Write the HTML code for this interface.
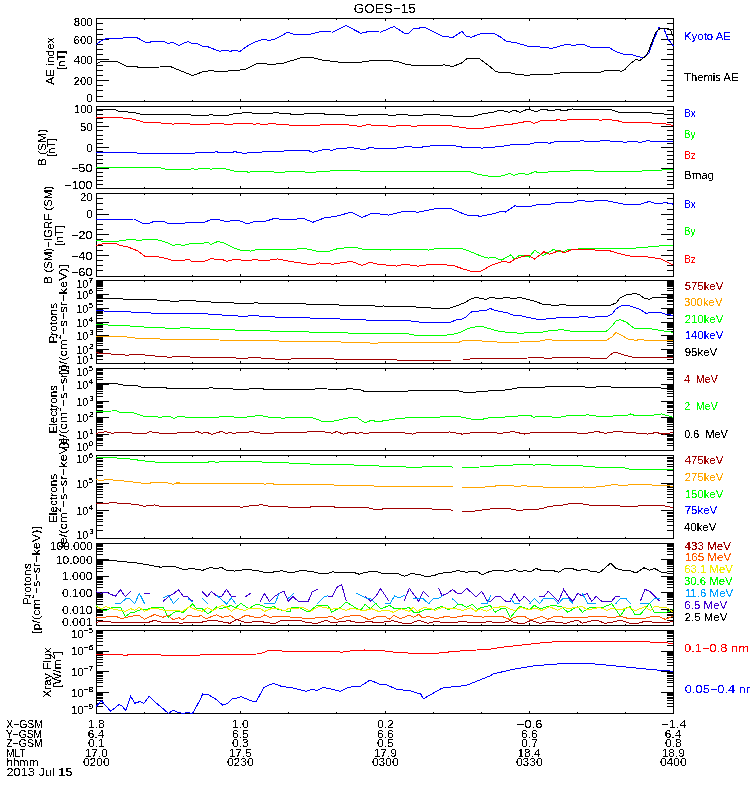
<!DOCTYPE html><html><head><meta charset="utf-8"><style>html,body{margin:0;padding:0;background:#fff;width:750px;height:800px;overflow:hidden}svg{display:block}text{font-family:"Liberation Sans",sans-serif;white-space:pre}</style></head><body><svg width="750" height="800" viewBox="0 0 750 800">
<defs>
<clipPath id="c0"><rect x="96" y="18" width="578" height="84"/></clipPath>
<clipPath id="c1"><rect x="96" y="106" width="578" height="83"/></clipPath>
<clipPath id="c2"><rect x="96" y="193" width="578" height="84"/></clipPath>
<clipPath id="c3"><rect x="96" y="280" width="578" height="84"/></clipPath>
<clipPath id="c4"><rect x="96" y="368" width="578" height="83"/></clipPath>
<clipPath id="c5"><rect x="96" y="455" width="578" height="84"/></clipPath>
<clipPath id="c6"><rect x="96" y="543" width="578" height="83"/></clipPath>
<clipPath id="c7"><rect x="96" y="630" width="578" height="84"/></clipPath>
<filter id="tc" x="0" y="0" width="750" height="800" filterUnits="userSpaceOnUse"><feComponentTransfer><feFuncA type="discrete" tableValues="0 0 0 0 0 0 0 0 0 1 1 1 1 1 1 1 1 1 1 1"/></feComponentTransfer></filter>
<filter id="tc2" x="0" y="0" width="750" height="800" filterUnits="userSpaceOnUse"><feComponentTransfer><feFuncA type="discrete" tableValues="0 1 1"/></feComponentTransfer></filter>
<filter id="tc3" x="0" y="0" width="750" height="800" filterUnits="userSpaceOnUse"><feComponentTransfer><feFuncA type="discrete" tableValues="0 0 0 0 0 0 0 0 0 1 1 1 1 1 1 1 1 1 1 1"/></feComponentTransfer></filter>
</defs>
<path d="M96 18.5 H674 M96 101.5 H674 M96 96.5 H103 M667 96.5 H674 M96 90.5 H103 M667 90.5 H674 M96 85.5 H103 M667 85.5 H674 M96 80.5 H109 M661 80.5 H674 M96 75.5 H103 M667 75.5 H674 M96 70.5 H103 M667 70.5 H674 M96 65.5 H103 M667 65.5 H674 M96 59.5 H109 M661 59.5 H674 M96 54.5 H103 M667 54.5 H674 M96 49.5 H103 M667 49.5 H674 M96 44.5 H103 M667 44.5 H674 M96 39.5 H109 M661 39.5 H674 M96 34.5 H103 M667 34.5 H674 M96 29.5 H103 M667 29.5 H674 M96 23.5 H103 M667 23.5 H674 M96 106.5 H674 M96 188.5 H674 M96 184.5 H103 M667 184.5 H674 M96 180.5 H103 M667 180.5 H674 M96 176.5 H103 M667 176.5 H674 M96 172.5 H103 M667 172.5 H674 M96 168.5 H109 M661 168.5 H674 M96 163.5 H103 M667 163.5 H674 M96 159.5 H103 M667 159.5 H674 M96 155.5 H103 M667 155.5 H674 M96 151.5 H103 M667 151.5 H674 M96 147.5 H109 M661 147.5 H674 M96 143.5 H103 M667 143.5 H674 M96 139.5 H103 M667 139.5 H674 M96 135.5 H103 M667 135.5 H674 M96 130.5 H103 M667 130.5 H674 M96 126.5 H109 M661 126.5 H674 M96 122.5 H103 M667 122.5 H674 M96 118.5 H103 M667 118.5 H674 M96 114.5 H103 M667 114.5 H674 M96 110.5 H103 M667 110.5 H674 M96 193.5 H674 M96 276.5 H674 M96 270.5 H103 M667 270.5 H674 M96 265.5 H103 M667 265.5 H674 M96 260.5 H103 M667 260.5 H674 M96 255.5 H109 M661 255.5 H674 M96 250.5 H103 M667 250.5 H674 M96 245.5 H103 M667 245.5 H674 M96 239.5 H103 M667 239.5 H674 M96 234.5 H109 M661 234.5 H674 M96 229.5 H103 M667 229.5 H674 M96 224.5 H103 M667 224.5 H674 M96 219.5 H103 M667 219.5 H674 M96 214.5 H109 M661 214.5 H674 M96 209.5 H103 M667 209.5 H674 M96 203.5 H103 M667 203.5 H674 M96 198.5 H103 M667 198.5 H674 M96 280.5 H674 M96 363.5 H674 M96 359.5 H103 M667 359.5 H674 M96 356.5 H103 M667 356.5 H674 M96 355.5 H103 M667 355.5 H674 M96 353.5 H103 M667 353.5 H674 M96 352.5 H103 M667 352.5 H674 M96 351.5 H103 M667 351.5 H674 M96 351.5 H103 M667 351.5 H674 M96 350.5 H103 M667 350.5 H674 M96 349.5 H109 M661 349.5 H674 M96 345.5 H103 M667 345.5 H674 M96 343.5 H103 M667 343.5 H674 M96 341.5 H103 M667 341.5 H674 M96 340.5 H103 M667 340.5 H674 M96 339.5 H103 M667 339.5 H674 M96 338.5 H103 M667 338.5 H674 M96 337.5 H103 M667 337.5 H674 M96 336.5 H103 M667 336.5 H674 M96 335.5 H109 M661 335.5 H674 M96 331.5 H103 M667 331.5 H674 M96 329.5 H103 M667 329.5 H674 M96 327.5 H103 M667 327.5 H674 M96 326.5 H103 M667 326.5 H674 M96 325.5 H103 M667 325.5 H674 M96 324.5 H103 M667 324.5 H674 M96 323.5 H103 M667 323.5 H674 M96 322.5 H103 M667 322.5 H674 M96 322.5 H109 M661 322.5 H674 M96 318.5 H103 M667 318.5 H674 M96 315.5 H103 M667 315.5 H674 M96 313.5 H103 M667 313.5 H674 M96 312.5 H103 M667 312.5 H674 M96 311.5 H103 M667 311.5 H674 M96 310.5 H103 M667 310.5 H674 M96 309.5 H103 M667 309.5 H674 M96 309.5 H103 M667 309.5 H674 M96 308.5 H109 M661 308.5 H674 M96 304.5 H103 M667 304.5 H674 M96 301.5 H103 M667 301.5 H674 M96 300.5 H103 M667 300.5 H674 M96 298.5 H103 M667 298.5 H674 M96 297.5 H103 M667 297.5 H674 M96 296.5 H103 M667 296.5 H674 M96 296.5 H103 M667 296.5 H674 M96 295.5 H103 M667 295.5 H674 M96 294.5 H109 M661 294.5 H674 M96 290.5 H103 M667 290.5 H674 M96 288.5 H103 M667 288.5 H674 M96 286.5 H103 M667 286.5 H674 M96 285.5 H103 M667 285.5 H674 M96 284.5 H103 M667 284.5 H674 M96 283.5 H103 M667 283.5 H674 M96 282.5 H103 M667 282.5 H674 M96 281.5 H103 M667 281.5 H674 M96 368.5 H674 M96 450.5 H674 M96 445.5 H103 M667 445.5 H674 M96 443.5 H103 M667 443.5 H674 M96 440.5 H103 M667 440.5 H674 M96 439.5 H103 M667 439.5 H674 M96 438.5 H103 M667 438.5 H674 M96 436.5 H103 M667 436.5 H674 M96 436.5 H103 M667 436.5 H674 M96 435.5 H103 M667 435.5 H674 M96 434.5 H109 M661 434.5 H674 M96 429.5 H103 M667 429.5 H674 M96 426.5 H103 M667 426.5 H674 M96 424.5 H103 M667 424.5 H674 M96 422.5 H103 M667 422.5 H674 M96 421.5 H103 M667 421.5 H674 M96 420.5 H103 M667 420.5 H674 M96 419.5 H103 M667 419.5 H674 M96 418.5 H103 M667 418.5 H674 M96 417.5 H109 M661 417.5 H674 M96 412.5 H103 M667 412.5 H674 M96 410.5 H103 M667 410.5 H674 M96 407.5 H103 M667 407.5 H674 M96 406.5 H103 M667 406.5 H674 M96 405.5 H103 M667 405.5 H674 M96 403.5 H103 M667 403.5 H674 M96 403.5 H103 M667 403.5 H674 M96 402.5 H103 M667 402.5 H674 M96 401.5 H109 M661 401.5 H674 M96 396.5 H103 M667 396.5 H674 M96 393.5 H103 M667 393.5 H674 M96 391.5 H103 M667 391.5 H674 M96 389.5 H103 M667 389.5 H674 M96 388.5 H103 M667 388.5 H674 M96 387.5 H103 M667 387.5 H674 M96 386.5 H103 M667 386.5 H674 M96 385.5 H103 M667 385.5 H674 M96 384.5 H109 M661 384.5 H674 M96 379.5 H103 M667 379.5 H674 M96 377.5 H103 M667 377.5 H674 M96 374.5 H103 M667 374.5 H674 M96 373.5 H103 M667 373.5 H674 M96 372.5 H103 M667 372.5 H674 M96 370.5 H103 M667 370.5 H674 M96 370.5 H103 M667 370.5 H674 M96 369.5 H103 M667 369.5 H674 M96 455.5 H674 M96 538.5 H674 M96 530.5 H103 M667 530.5 H674 M96 525.5 H103 M667 525.5 H674 M96 521.5 H103 M667 521.5 H674 M96 519.5 H103 M667 519.5 H674 M96 516.5 H103 M667 516.5 H674 M96 515.5 H103 M667 515.5 H674 M96 513.5 H103 M667 513.5 H674 M96 512.5 H103 M667 512.5 H674 M96 510.5 H109 M661 510.5 H674 M96 502.5 H103 M667 502.5 H674 M96 497.5 H103 M667 497.5 H674 M96 494.5 H103 M667 494.5 H674 M96 491.5 H103 M667 491.5 H674 M96 489.5 H103 M667 489.5 H674 M96 487.5 H103 M667 487.5 H674 M96 486.5 H103 M667 486.5 H674 M96 484.5 H103 M667 484.5 H674 M96 483.5 H109 M661 483.5 H674 M96 475.5 H103 M667 475.5 H674 M96 470.5 H103 M667 470.5 H674 M96 466.5 H103 M667 466.5 H674 M96 464.5 H103 M667 464.5 H674 M96 461.5 H103 M667 461.5 H674 M96 460.5 H103 M667 460.5 H674 M96 458.5 H103 M667 458.5 H674 M96 457.5 H103 M667 457.5 H674 M96 543.5 H674 M96 625.5 H674 M96 620.5 H103 M667 620.5 H674 M96 617.5 H103 M667 617.5 H674 M96 615.5 H103 M667 615.5 H674 M96 614.5 H103 M667 614.5 H674 M96 612.5 H103 M667 612.5 H674 M96 611.5 H103 M667 611.5 H674 M96 610.5 H103 M667 610.5 H674 M96 610.5 H103 M667 610.5 H674 M96 609.5 H109 M661 609.5 H674 M96 604.5 H103 M667 604.5 H674 M96 601.5 H103 M667 601.5 H674 M96 599.5 H103 M667 599.5 H674 M96 597.5 H103 M667 597.5 H674 M96 596.5 H103 M667 596.5 H674 M96 595.5 H103 M667 595.5 H674 M96 594.5 H103 M667 594.5 H674 M96 593.5 H103 M667 593.5 H674 M96 592.5 H109 M661 592.5 H674 M96 587.5 H103 M667 587.5 H674 M96 584.5 H103 M667 584.5 H674 M96 582.5 H103 M667 582.5 H674 M96 581.5 H103 M667 581.5 H674 M96 579.5 H103 M667 579.5 H674 M96 578.5 H103 M667 578.5 H674 M96 577.5 H103 M667 577.5 H674 M96 577.5 H103 M667 577.5 H674 M96 576.5 H109 M661 576.5 H674 M96 571.5 H103 M667 571.5 H674 M96 568.5 H103 M667 568.5 H674 M96 566.5 H103 M667 566.5 H674 M96 564.5 H103 M667 564.5 H674 M96 563.5 H103 M667 563.5 H674 M96 562.5 H103 M667 562.5 H674 M96 561.5 H103 M667 561.5 H674 M96 560.5 H103 M667 560.5 H674 M96 559.5 H109 M661 559.5 H674 M96 554.5 H103 M667 554.5 H674 M96 551.5 H103 M667 551.5 H674 M96 549.5 H103 M667 549.5 H674 M96 548.5 H103 M667 548.5 H674 M96 546.5 H103 M667 546.5 H674 M96 545.5 H103 M667 545.5 H674 M96 544.5 H103 M667 544.5 H674 M96 544.5 H103 M667 544.5 H674 M96 630.5 H674 M96 713.5 H674 M96 706.5 H103 M667 706.5 H674 M96 703.5 H103 M667 703.5 H674 M96 700.5 H103 M667 700.5 H674 M96 698.5 H103 M667 698.5 H674 M96 697.5 H103 M667 697.5 H674 M96 695.5 H103 M667 695.5 H674 M96 694.5 H103 M667 694.5 H674 M96 693.5 H103 M667 693.5 H674 M96 692.5 H109 M661 692.5 H674 M96 686.5 H103 M667 686.5 H674 M96 682.5 H103 M667 682.5 H674 M96 680.5 H103 M667 680.5 H674 M96 678.5 H103 M667 678.5 H674 M96 676.5 H103 M667 676.5 H674 M96 675.5 H103 M667 675.5 H674 M96 673.5 H103 M667 673.5 H674 M96 672.5 H103 M667 672.5 H674 M96 671.5 H109 M661 671.5 H674 M96 665.5 H103 M667 665.5 H674 M96 662.5 H103 M667 662.5 H674 M96 659.5 H103 M667 659.5 H674 M96 657.5 H103 M667 657.5 H674 M96 655.5 H103 M667 655.5 H674 M96 654.5 H103 M667 654.5 H674 M96 653.5 H103 M667 653.5 H674 M96 652.5 H103 M667 652.5 H674 M96 651.5 H109 M661 651.5 H674 M96 645.5 H103 M667 645.5 H674 M96 641.5 H103 M667 641.5 H674 M96 638.5 H103 M667 638.5 H674 M96 636.5 H103 M667 636.5 H674 M96 635.5 H103 M667 635.5 H674 M96 633.5 H103 M667 633.5 H674 M96 632.5 H103 M667 632.5 H674 M96 631.5 H103 M667 631.5 H674 M96.5 18 V102 M673.5 18 V102 M144.5 19 V20 M144.5 100 V101 M192.5 19 V20 M192.5 100 V101 M240.5 19 V21 M240.5 99 V101 M288.5 19 V20 M288.5 100 V101 M336.5 19 V20 M336.5 100 V101 M385.5 19 V21 M385.5 99 V101 M433.5 19 V20 M433.5 100 V101 M481.5 19 V20 M481.5 100 V101 M529.5 19 V21 M529.5 99 V101 M577.5 19 V20 M577.5 100 V101 M625.5 19 V20 M625.5 100 V101 M96.5 106 V189 M673.5 106 V189 M144.5 187 V188 M192.5 187 V188 M240.5 107 V109 M240.5 186 V188 M288.5 187 V188 M336.5 187 V188 M385.5 107 V109 M385.5 186 V188 M433.5 187 V188 M481.5 187 V188 M529.5 107 V109 M529.5 186 V188 M577.5 187 V188 M625.5 187 V188 M96.5 193 V277 M673.5 193 V277 M144.5 194 V195 M144.5 275 V276 M192.5 194 V195 M192.5 275 V276 M240.5 194 V196 M240.5 274 V276 M288.5 194 V195 M288.5 275 V276 M336.5 194 V195 M336.5 275 V276 M385.5 194 V196 M385.5 274 V276 M433.5 194 V195 M433.5 275 V276 M481.5 194 V195 M481.5 275 V276 M529.5 194 V196 M529.5 274 V276 M577.5 194 V195 M577.5 275 V276 M625.5 194 V195 M625.5 275 V276 M96.5 280 V364 M673.5 280 V364 M144.5 281 V282 M144.5 362 V363 M192.5 281 V282 M192.5 362 V363 M240.5 281 V283 M240.5 361 V363 M288.5 281 V282 M288.5 362 V363 M336.5 281 V282 M336.5 362 V363 M385.5 281 V283 M385.5 361 V363 M433.5 281 V282 M433.5 362 V363 M481.5 281 V282 M481.5 362 V363 M529.5 281 V283 M529.5 361 V363 M577.5 281 V282 M577.5 362 V363 M625.5 281 V282 M625.5 362 V363 M96.5 368 V451 M673.5 368 V451 M144.5 369 V370 M192.5 369 V370 M240.5 369 V371 M240.5 448 V450 M288.5 369 V370 M336.5 369 V370 M385.5 369 V371 M385.5 448 V450 M433.5 369 V370 M481.5 369 V370 M529.5 369 V371 M529.5 448 V450 M577.5 369 V370 M625.5 369 V370 M96.5 455 V539 M673.5 455 V539 M144.5 456 V457 M144.5 537 V538 M192.5 456 V457 M192.5 537 V538 M240.5 456 V458 M240.5 536 V538 M288.5 456 V457 M288.5 537 V538 M336.5 456 V457 M336.5 537 V538 M385.5 456 V458 M385.5 536 V538 M433.5 456 V457 M433.5 537 V538 M481.5 456 V457 M481.5 537 V538 M529.5 456 V458 M529.5 536 V538 M577.5 456 V457 M577.5 537 V538 M625.5 456 V457 M625.5 537 V538 M96.5 543 V626 M673.5 543 V626 M144.5 624 V625 M192.5 624 V625 M240.5 544 V546 M240.5 623 V625 M288.5 624 V625 M336.5 624 V625 M385.5 544 V546 M385.5 623 V625 M433.5 624 V625 M481.5 624 V625 M529.5 544 V546 M529.5 623 V625 M577.5 624 V625 M625.5 624 V625 M96.5 630 V714 M673.5 630 V714 M144.5 631 V632 M144.5 712 V713 M192.5 631 V632 M192.5 712 V713 M240.5 631 V633 M240.5 711 V713 M288.5 631 V632 M288.5 712 V713 M336.5 631 V632 M336.5 712 V713 M385.5 631 V633 M385.5 711 V713 M433.5 631 V632 M433.5 712 V713 M481.5 631 V632 M481.5 712 V713 M529.5 631 V633 M529.5 711 V713 M577.5 631 V632 M577.5 712 V713 M625.5 631 V632 M625.5 712 V713" stroke="#000" stroke-width="1" fill="none" shape-rendering="crispEdges"/>
<g clip-path="url(#c0)" fill="none" stroke-width="1" shape-rendering="crispEdges">
<polyline stroke="#0000ff" points="96,44.7 101.3,40.7 108,38 122.7,38 125.3,37.2 136,37.2 145,42 149,42.6 152,41.4 164,41.4 168,43.4 173,42.4 179,45.4 188,41.4 192,43.4 197,43.4 202,46 207,46.4 216,50 220,51.4 225,50 230,51.4 234,50.4 240,51.4 246,47 250.7,44.1 256,41.5 264,39.3 269.3,40.4 274.7,39.3 282.7,35.3 287.5,32.1 293.3,34 300.7,34.5 311.3,34 322,31.3 332.7,32.1 346,25.5 360.7,33.2 370,31.3 380.7,32.1 394,26.5 404.7,33.5 408.7,33.2 414,28.1 426,27.9 442,36.1 452.7,37.5 462,31.3 466,36.1 471.3,37.2 482,33.2 490,33.5 494.7,34 500,36.7 506.7,41.5 514.7,42.5 526.7,45.7 528,46.4 540,47 552,48.4 566,44.4 574,45.4 582,44 590,47 608,47 616,51.6 626,55 631,54.4 643,58 649,53 654,39 659,27.6 664,29 668,39 673.3,46"/>
<polyline stroke="#000000" points="96,64 100,62 104,61 116,61 126,66 136,66.6 139,67.4 160,67 163,66 170,66.4 176,69 184,72 192,75.4 196,74.4 202,72 211,70.4 220,72 228,71 238,70.4 246,69 256,63.9 264,63.3 269.3,64.7 282.7,63.3 296,59.3 302,57.2 314,58 322,60.1 338,62 362,62 375.3,60.1 396.7,61.2 407.3,64.7 423.3,66 444.7,64.9 452.7,66.5 462,62.8 467.3,58.3 479.3,58.5 490,66.5 496,71.9 509.3,72.7 514.7,74 528,75.4 533,74.4 554,74 564,72.4 586,72.4 598,73 602,71.6 606,70.4 618,70.4 621,71.4 625,69.4 630,64 636,59.4 640,60.4 646,56 649,50 653,39 656,32 660,28.4 668,28.4 671,31 673.3,37"/>
</g>
<g clip-path="url(#c1)" fill="none" stroke-width="1" shape-rendering="crispEdges">
<polyline stroke="#000000" points="96,110 104,109.6 116,110 118,111 128,112 136,113 142,114.4 190,114.4 192,115.4 208,115.4 211,114.4 214,115.4 228,115.4 234,113.6 242,113 246,112 248,112.4 254,113.4 272,113.4 274,112.4 282,113.4 296,114.4 316,113.4 330,114.4 354,115.4 364,114.4 386,114.4 390,115.4 404.7,114.5 412.7,115.6 431.3,114.5 444.7,115.3 460.7,116.7 474,116.1 484,113.6 494,112 500,110 504,111 509,112.4 514,110 520,112.4 528,109 534,111 535,112 543,109 552,111 558,109 563,111 572,109 612,110 618,112 652,113 664,114 673.3,115"/>
<polyline stroke="#ff0000" points="96,117.6 122,117.6 124,118.4 132,119 138,120.4 144,122.4 160,122.4 162,123.4 170,123.4 173,124.4 176,123.4 189,123.4 191,124.4 209,124.4 211,123.4 222,123.4 225,124.4 232,124.4 234,123.4 246,123.4 252,123.6 254,124.6 258,123.6 262,124.6 272,123.6 282,124.6 296,125.4 344,124.6 354,125.4 360,126.6 368,124.6 374,125.4 386,125.4 390,126.6 404.7,125.2 412.7,126.3 428.7,125.2 450,125.7 468.7,128.4 480,128.7 496,126 512,124.1 529,121 534,123.4 542,120.4 554,121 558,119.4 563,121 570,119.4 598,119.4 600,120.4 606,119.4 616,120.4 624,122.4 650,122.4 653,123.4 666,124 673.3,125.4"/>
<polyline stroke="#0000ff" points="96,152.6 136,152.6 138,153.4 194,153.4 196,152.6 214,152.6 216,151.6 219,152.4 232,152.4 235,151.6 238,152.4 244,153.4 246,153.4 248,152.6 272,151.6 296,150.4 308,150.4 313,152.4 320,150.4 326,149 332,150.4 336,149 344,148.6 350,147.4 360,149 366,149 370,147.4 376,148.4 390,148.4 396.7,148.1 407.3,146.5 418,147.6 434,145.5 452.7,145.5 463.3,147.3 476.7,147.3 482,148.1 501.3,146.5 512,144.7 528,144.4 536,142.4 546,142.4 549,143.4 556,141.6 578,141.6 582,140.4 586,141.6 598,141.6 602,140.4 608,140.4 612,141.6 622,141.6 625,142.6 628,141.6 637,141.6 640,142.6 648,140.4 652,141.6 673.3,141.6"/>
<polyline stroke="#00ff00" points="96,167.6 160,167.6 166,169.4 190,169.4 192,168.4 196,169.4 200,168.4 208,168.4 211,169.4 214,168.4 224,168.4 228,169.4 234,171 246,171 248,172.4 254,171 282,172.4 292,171 310,172.4 330,171 350,170 360,171 390,171 468.7,171.3 476.7,174 490,176.4 500,176.4 505,175 510,173.4 514,175.4 520,173.4 528,174.4 534,172 535,171.4 539,173 548,172 554,171 558,172 563,171 567,172 570,171 590,170.4 594,171 642,171 644,170 662,170 673.3,169.6"/>
</g>
<g clip-path="url(#c2)" fill="none" stroke-width="1" shape-rendering="crispEdges">
<polyline stroke="#0000ff" points="96,220 134,219 142,223 150,223 154,221.4 164,221.4 168,223.4 184,223.4 186,222.4 204,222.4 210,220 216,219 224,221 230,221 234,220 238,220 246,223.4 250.7,222.9 256,221 264,221.8 274.7,218.3 282.7,219.7 296,219.1 303.3,218.3 312.7,222.3 324.7,217.8 335.3,216.5 351.3,212.2 362,217.5 372.7,213 388.7,215.1 404.7,211.1 418,212.2 434,209 450,208.2 466,214.9 480.7,216.2 493.3,213.8 501.3,211.1 505.3,212.2 514.7,205.8 522.7,206.9 530.7,206.3 538.7,204.2 548,205 557.3,202.3 573.3,202.3 578.7,200.2 589.3,201.5 602.7,200.2 608,201 624,204.2 640,204.2 649.3,201.5 656,203.7 666.7,202.6 673.3,204.2"/>
<polyline stroke="#00ff00" points="96,240.4 104,241.4 116,241.4 130,239.4 136,240 140,240.4 144,239.4 156,239.4 164,241.4 173,245.4 177,244.4 184,245.4 192,243 204,243 207,242 211,244.4 218,241.4 224,243 234,248 240,250 246,250.6 250.7,251.1 258.7,249 272,249.8 290,249.8 303.3,248.2 316.7,251.1 330,251.1 338,248.5 354,247.1 362,249 386,249 390,250.1 396.7,249 423.3,249 428.7,250.1 434,249 450,248.5 463.3,249 474,253 482,256.5 488,258.1 494.7,257.5 501.3,260.2 510.7,254.9 514.7,259.1 520,254.9 529.3,257 534.7,250.3 542.7,255.7 553.3,249.5 562.7,252.2 568,249.5 589.3,248.5 624,249 640,247.7 661.3,245.8 673.3,245.3"/>
<polyline stroke="#ff0000" points="96,245.4 104,243.4 116,243.4 120,245.4 128,247 138,251 145,256.4 156,256.4 166,258.4 172,260.4 184,260.4 188,259 192,261.4 204,261.4 212,258.4 216,259.4 222,259.4 227,261.4 234,259.4 246,260.4 256,259.7 264,261 277.3,258.9 288,261 296,262.3 300.7,262.9 312.7,265 319.3,262.9 332.7,264.2 351.3,261.3 362,265.5 370,262.3 378,264.2 396.7,266.1 404.7,264.2 418,266.1 431.3,264.2 452.7,265.3 463.3,269 471.3,271.4 480.7,271.4 490.7,265.5 504,261 509.3,262.9 514.7,259.1 528,254.9 534.7,259.1 544,251.7 549.3,254.3 560,250.3 564,253 572,249.5 608,250.3 624,254.9 634.7,257 645.3,256.5 661.3,259.1 673.3,265"/>
</g>
<g clip-path="url(#c3)" fill="none" stroke-width="1" shape-rendering="crispEdges">
<polyline stroke="#000000" points="96,298 128,299.2 157.3,300 173.3,301.3 192,300.3 197.3,301.3 224,302.7 250.7,303.5 256,302.7 261.3,303.5 296,303.5 306,304 348.7,305.3 378,306.1 384,306 416,307 437,308.4 449,308.4 456,306 464,303 472,298.4 476,297.6 482,298.4 486,299.4 490,297.6 500,298.4 506,297.6 514,298.4 520,297.6 527,299.2 528,299.4 536,301.6 543,304.4 556,305.4 563,304.4 572,306 580,305.4 610,305.4 616,303 620,298 626,295 634,293.6 639,294.4 644,298 649,299.4 653,297.6 666,297.6 673.3,298"/>
<polyline stroke="#0000ff" points="96,310.7 130.7,312 157.3,313.3 208,313.9 210.7,314.7 229.3,315.2 242.7,316.5 256,315.2 261.3,316.5 282.7,317.3 314,318.1 354,319.5 378,320.5 384,320.4 410,320.4 412,321.6 426,322.4 450,322.4 456,320 462,319 466,317 472,311.4 478,311.4 480,310.4 486,310.4 490,308.4 494,310 499,311.4 506,312.4 514,315.4 522,316 527,317.2 528,317.4 538,319.4 546,319 562,317.4 568,318 586,316.4 590,317.4 608,316 612,314 616,309 622,305.4 628,305.4 640,309.4 646,313.4 652,312.4 660,312.4 666,314.4 673.3,315.4"/>
<polyline stroke="#00ff00" points="96,324.8 104,324.8 128,325.9 146.7,327.2 176,328.5 186.7,327.2 192,328.5 213.3,329.1 237.3,330.1 277.3,331.2 308.7,332 359.3,333.3 384,333.4 406,333.4 416,335.4 444,335.4 454,334 460,332.4 468,328.4 478,326.4 484,327 494,330 500,331.4 508,332.4 522,333.4 527,332.5 528,332.4 538,333 548,331 562,329.6 570,331 588,331 606,331.6 612,326 616,321 620,319.6 626,322 634,328 652,329 668,331.6 673.3,332.4"/>
<polyline stroke="#ffa500" points="96,336.5 122.7,336.5 136,338.1 165.3,339.2 218.7,340 266.7,340.8 296,341.3 338,341.9 375.3,343.2 384,342.6 458,342.6 462,341 474,340.4 478,340 484,341.6 488,341 500,342.4 520,342 527,341.3 528,341.4 538,341.4 548,339.4 554,340.4 606,340.4 612,337 616,332.4 622,335.6 628,339 636,340.4 640,339.4 646,340.4 668,340.4 673.3,341"/>
<polyline stroke="#a00000" points="96,352.8 109.3,353.9 128,355.2 136,354.1 154.7,356 170.7,357.3 176,356 194.7,357.3 232,357.3 240,358.7 256,357.3 266.7,358.7 288,359.5 296,358.1 311.3,358.9 322,358.4 343.3,359.5 383.3,359.5 410,360.5 452.7,360"/>
<polyline stroke="#a00000" points="463.3,359.2 490,358.4 520,358.1 528,358 538,357.4 548,358.4 564,357 590,358 607,358 610,355 614,352.4 618,353 624,355 632,357 673.3,357"/>
</g>
<g clip-path="url(#c4)" fill="none" stroke-width="1" shape-rendering="crispEdges">
<polyline stroke="#000000" points="96,383.6 106,383 122,384.4 124,385.4 136,385.4 142,387.4 166,387.4 167,388.4 208,388.4 211,387.4 214,388.4 232,388.4 234,389.4 246,389.4 250.7,388.8 256,388.3 266.7,389.3 308.7,389.9 316.7,388.8 343.3,389.3 348.7,388.8 359.3,389.3 364.7,391.5 404.7,391.5 410,390.7 458,390.7 463.3,392 471.3,392.5 480,391.5 506.7,389.9 517.3,388 541.3,387.2 565.3,386.1 589.3,387.2 608,386.7 613.3,387.2 650.7,387.5 666.7,388.3 673.3,388.8"/>
<polyline stroke="#00ff00" points="96,411.4 112,411 115,410 120,412.4 132,412.4 138,414.4 144,416.4 156,416.4 160,417.4 164,416.4 170,416.4 174,418.4 178,416.4 184,416.4 186,417.4 218,417.4 220,416.4 232,416.4 236,417.4 246,417.4 248,416.8 260,415.5 269.3,417.3 282.7,418.1 303.3,417.3 314,418.1 322,421.3 332.7,421.3 351.3,417.3 356.7,417.3 364.7,422.7 370,420.8 380.7,421.3 396.7,418.7 412.7,417.3 439.3,417.3 442,416.5 458,416.5 474,419.5 479.3,420 490.7,417.3 514.7,416.8 520,415.5 530.7,415.5 533.3,417.3 538.7,416.5 560,417.3 568,415.5 584,415.5 586.7,414.7 600,416.5 626.7,415.5 630.7,413.9 634.7,415.5 650.7,415.5 661.3,413.9 673.3,417.3"/>
<polyline stroke="#a00000" points="96,433.4 106,431.6 112,433.4 118,432.4 130,432.4 133,433.4 146,433.4 150,431.4 154,432.4 162,433.4 176,433.4 178,432.4 194,432.4 197,431.4 202,433.4 206,432 212,434.4 218,432.4 222,431.4 226,433.4 230,432.4 234,433.4 240,432.4 246,433 250.7,431.5 261.3,433.3 296,432.5 306,432.5 308.7,431.5 324.7,432 332.7,433.3 336.7,431.5 343.3,434.1 351.3,432 356.7,433.3 362,432.5 366,434.1 370,432.5 402,432.5 412.7,434.1 418,432.5 450,432 462,434.1 476.7,432 490,432.5 501.3,433.3 513.3,431.5 524,434.1 533.3,432.5 560,432.5 586.7,433.3 597.3,431.5 605.3,433.3 616,431.5 640,433.3 648,434.1 656,432.5 664,434.1 673.3,432.5"/>
</g>
<g clip-path="url(#c5)" fill="none" stroke-width="1" shape-rendering="crispEdges">
<polyline stroke="#00ff00" points="96,457.7 104,457.1 112,457.7 128,458.7 144,460.9 157.3,462.2 208,462.2 210.7,461.1 216,462.2 232,461.1 261.3,461.7 264,462.5 282.7,462.5 296,463.5 308.7,463.5 311.3,464.3 354,464.9 356.7,465.7 378,465.7 380.7,466.5 396.7,467 402,466.2 407.3,467.3 420.7,467.3 423.3,466.5 450,466.5 452.7,467.3"/>
<polyline stroke="#00ff00" points="462,467.3 480,467 490.7,466.2 498.7,465.7 528,464.3 533.3,465.1 544,464.3 552,465.1 578.7,465.7 594.7,467 610.7,467.8 616,467 624,467.8 629.3,469.1 673.3,469.7"/>
<polyline stroke="#ffa500" points="96,479.5 100,480.6 106.7,479.5 117.3,480.3 130.7,481.7 146.7,483.8 152,482.7 168,483 173.3,484.3 176,483 261.3,483.3 265.3,484.3 269.3,483 274.7,484.3 296,484.3 332.7,484.3 335.3,485.4 372.7,485.4 375.3,486.5 452.7,486.5"/>
<polyline stroke="#ffa500" points="462,487.5 480,487.5 498.7,485.7 512,485.7 517.3,486.5 522.7,485.7 533.3,486.5 552,487.5 584,487 592,487.5 608,485.7 614.7,484.3 621.3,485.7 629.3,484.9 640,484.3 653.3,485.1 666.7,485.1 673.3,487"/>
<polyline stroke="#a00000" points="96,503.5 106.7,503.5 112,502.5 122.7,503.5 136,504.3 144,506.2 154.7,504.9 160,506.2 237.3,506.2 241.3,507.5 245.3,506.2 256,505.7 261.3,504.6 269.3,506.2 282.7,506.2 290.7,507.5 310,507.5 311.3,506.2 332.7,506.2 335.3,507.3 367.3,507.5 374,509.4 382,509.4 383.3,508.3 430,508.3 432.7,509.4 450,509.7 452.7,510.5"/>
<polyline stroke="#a00000" points="462,511.5 474,511.5 476.7,510.5 484.7,509.7 490.7,508.9 506.7,508.3 518.7,510.5 525.3,509.7 541.3,508.9 549.3,506.2 560,505.7 570.7,503.5 581.3,503.8 589.3,505.1 616,505.1 621.3,506.2 637.3,506.2 640,505.1 661.3,505.1 673.3,507.8"/>
</g>
<g clip-path="url(#c6)" fill="none" stroke-width="1" shape-rendering="crispEdges">
<polyline stroke="#000000" points="96,560 102.7,560.2 117.3,561 136,562.9 149.3,565 160,567.1 173.3,566.3 184,569.5 192,568.5 202.7,570.3 210.7,567.4 216,569 221.3,567.4 226.7,570.3 234.7,571.1 245.3,569.5 256,570.3 261.3,571.7 269.3,573 277.3,571.1 282.7,570.9 290.7,573 302,570.3 312.7,571.7 320.7,573.8 327.3,573.8 332.7,571.7 338,573 354,572.5 359.3,574.3 364.7,572.5 375.3,571.1 383.3,573.8 396.7,573.3 404.7,576.2 411.3,573.5 420.7,574.9 426,576.5 434,575.7 439.3,573.3 450,572.5 458,570.6 466,572.2 476.7,571.1 482,574.9 490.7,571.1 501.3,570.3 506.7,571.7 514.7,569.5 520,571.7 525.3,570.6 530.7,571.7 536,568.5 541.3,570.3 552,570.3 558.7,572.2 564,569 572,568.5 577.3,570.3 586.7,569.5 592,571.7 600,572.2 610.7,563.1 616,568.5 624,570.6 629.3,570.3 636,573 644,567.7 649.3,570.3 654.7,568.5 661.3,572.2 673.3,573.8"/>
<polyline stroke="#4000d0" points="96,591.7 101.3,593.3 106,592 115.3,596.3 120.4,589.6 125.3,596.7 130.7,591.3"/>
<polyline stroke="#4000d0" points="144,593.3 150,593.3"/>
<polyline stroke="#4000d0" points="163.3,601.3 169.3,595.7 173.3,594 178.4,589.6 183.3,596.3 187.3,596.3 192.7,601.3"/>
<polyline stroke="#4000d0" points="202,591.3 207.3,596.7 211.3,591.3 216.7,596 221.3,596.7 226.7,589.3 231.3,596.7 236,596.7"/>
<polyline stroke="#4000d0" points="245.3,596.7 250.7,593.3"/>
<polyline stroke="#4000d0" points="260,601.6 264.7,593.3 269.3,601.6 275.3,596 279.3,593.3 284,591.3 288.3,601.3 293,596.7 298.3,601.3 308.3,601.3 312.3,591.7 317.7,589.1"/>
<polyline stroke="#4000d0" points="327.7,596 332.3,596 337,587.3 341.7,584.7 346.3,601.3"/>
<polyline stroke="#4000d0" points="365,596 371,601.3 377,594.7 380.3,588.3 389.3,601.6"/>
<polyline stroke="#4000d0" points="404,601.3 409.3,588.3 418.7,601.3 423.3,591.3 428.7,596.7"/>
<polyline stroke="#4000d0" points="438.7,588.3 442,595.7 447.3,593.3 452.7,589.6 457.3,593.3 462,593.3 466.7,588.3 476,596.7 481.7,591.3 487.7,601.6 491,601.3 495.7,596.3 500.3,596.3 505.7,601.3 510.3,601.3 514.3,593.3 519.7,601.6 524.3,596.3 529.7,601.6"/>
<polyline stroke="#4000d0" points="539,596.7 543.7,596.7 548.3,591.3 558.3,601.6 563.7,589.3 568.3,596.7 573,601.3 577.7,593.3 582.3,596 587,593.3 591.7,601.3 596.3,596.3 601.7,601.3 611.7,601.3 615.7,596.3 620.3,596.3"/>
<polyline stroke="#4000d0" points="640.3,601.3 645,589.3 650.3,591.7 659.7,601.3"/>
<polyline stroke="#00a0ff" points="115.3,603.7 120,603.7 126,598.7 130,598.7 134.7,603.7 139.3,593.3 144.7,603.7"/>
<polyline stroke="#00a0ff" points="163.3,598 168.7,595.3 173.3,603.7 178.7,598"/>
<polyline stroke="#00a0ff" points="188,598.7 192.7,602"/>
<polyline stroke="#00a0ff" points="202,598 208,604"/>
<polyline stroke="#00a0ff" points="216.7,595.3 226.7,604 231.3,598 236,604"/>
<polyline stroke="#00a0ff" points="264,603.7 274.7,603.7 279.3,593.3"/>
<polyline stroke="#00a0ff" points="288,598.7 293.7,593.1"/>
<polyline stroke="#00a0ff" points="317,603.7 324.3,596.7 327.7,595.7"/>
<polyline stroke="#00a0ff" points="356.3,593.3 366.3,598 370.3,598 375.7,603.7"/>
<polyline stroke="#00a0ff" points="385.3,603.7 390,603.7 394.7,595.7 399.3,598 404.7,595.3"/>
<polyline stroke="#00a0ff" points="413.3,598.4 422.7,598.4 428.7,603.7 433.3,598.4 438.7,598.4 442.7,595.7"/>
<polyline stroke="#00a0ff" points="452,598.4 458,604"/>
<polyline stroke="#00a0ff" points="481,603.7 487,603.7 491,595.3"/>
<polyline stroke="#00a0ff" points="510.3,598 514.3,603.3 519.7,603.7"/>
<polyline stroke="#00a0ff" points="529.7,603.7 534.3,598.4 539.7,603.7 543.7,598.4 553.7,598.4 558.3,603.7 563,598.4 568.3,598.4 573,603.7"/>
<polyline stroke="#00a0ff" points="582.3,593.3 587.7,603.3 596.3,603.3"/>
<polyline stroke="#00a0ff" points="615.7,603.7 620.3,598.4 625.7,598.4 631,603.7"/>
<polyline stroke="#00a0ff" points="640.3,603.7 649,603.7 655,598.4 659.7,598.4"/>
<polyline stroke="#00ff00" points="96,605.3 100,608.7 104,610.4 106.7,610 113.3,607.3 120.7,607.3 125.3,616.7 130.7,612.7 134.7,612 140,610 146.7,609.6 153.3,607.3 163.3,607.3 168,617.3 173.3,612.7 178,610.9 182.7,612.7 192.7,604 196.7,608.7 202,608.7 208,614 216.7,606.7 220.7,608.7 226,607.3 231.3,605.3 235.3,608 240.7,603.3 248.7,608.7 256,604.4 262,605.3 267.3,608 274,606.7 278,609.3 290,612 291.7,607.3 298.3,607.3 308.3,612 317,605.3 327.7,605.3 331.7,612 341,607.3 346.3,602 357,608.7 361,610 365,604.3 370.3,608.7 375.7,603.3 381,609.1 389.3,605.3 394.7,608.7 404.7,608.7 408.7,607.3 413.3,612 418.7,612.3 425.3,609.6 433.3,609.6 441.3,606.4 448,609.3 452.7,608.7 458,604.3 461.3,604.3 466.7,607.3 472,604.3 477.3,609.6 480.3,608 490.3,605.3 495,612.3 502.3,608 505.7,608 510.3,617.6 519.7,606.4 529.7,609.6 534.3,605.3 540.3,608.7 552.3,605.3 561.7,606.7 567.7,612.3 577.7,606.4 582.3,612.3 589,608 593,607.3 601.7,608 611.7,603.7 620.3,616 625.7,608 630.3,606.7 635,614.4 640.3,614.4 649.7,603.3 654.3,612.3 666.3,612.3 673,609.6"/>
<polyline stroke="#f0f000" points="96,606.7 101.3,608.7 106,606.7 113.3,609.1 120.7,610.4 125.3,611.3 130.7,608.7 134.7,610.4 139.3,607.3 144.7,611.3 150.7,608.7 157.3,608.7 162.7,610 173.3,610.4 182.7,611.3 189.3,606.7 196.7,610 202,611.3 207.3,607.7 212.7,610.7 222,605.3 226,606.7 231.3,611.3 235.3,608.7 242,609.3 244.7,610.7 250,608 259.3,608 264.7,611.3 271.3,608.7 278,608.7 284.7,610.7 289,608 295.7,608.7 302.3,607.3 310.3,611.3 318.3,606.7 325,607.3 331.7,609.3 338.3,608 346.3,610.4 351.7,608 359.7,610 365,610.4 371.7,608.7 378.3,611.3 388,610.4 393.3,612.3 401.3,608.7 409.3,611.3 413.3,607.3 417.3,611.3 424,607.3 430.7,608.7 434.7,610.4 442.7,607.3 449.3,608.7 456,608.7 462.7,610.4 470.7,607.7 476,611.3 480.3,608.7 486.3,611.3 494.3,607.3 505,606.7 514.3,610.7 521,607.3 529.7,610 535,608 541.7,610.4 549.7,606.7 557.7,610.4 563,607.3 568.3,608.7 575,607.3 582.3,606.7 587.7,610 599.7,607.3 607,610.4 611.7,608 620.3,610 629,607.3 635,610.7 645,606.7 650.3,610.4 655,606.4 661,607.3 666.3,607.3 673,612"/>
<polyline stroke="#ff5a00" points="96,617.6 101.3,617.6 110.7,616.3 116,616.3 121.3,618.7 130.7,616.3 138.7,615.3 144.7,619.3 154.7,614.4 162.7,617.3 168,615.3 173.3,619.7 178.7,617.6 182.7,619.7 188,615.3 195.3,616.7 201.3,615.7 206,618.7 216.7,614.7 222,617.3 230.7,615.7 236.7,620 246,615.3 259.3,618 264.7,614.9 270,617.3 278,616.3 283.3,616.7 297,617.3 307.7,618.9 317,617.7 325,618 331.7,616 337,619.7 346.3,616.3 359.7,615.3 369,619.7 377,616.7 384.7,616.3 389.3,619.3 394,615.3 400,618.7 409.3,615.3 413.3,617.3 418.7,614.4 422.7,618 428,616.3 436,618.7 446.7,616.3 453.3,617.6 466.7,615.3 483,617.1 493.7,616 501.7,616.3 510.3,619.7 515,617.1 523.7,616 531,620 541.7,616.3 547.7,619.3 555,616.3 565.7,617.3 586.3,617.1 599.7,616.3 613,617.6 620.3,616.3 629,618.7 646.3,618 653,616.3 659.7,616.7 665,619.3 673,616.3"/>
<polyline stroke="#a00000" points="96,622.9 100,621.3 110.7,622 120,622 124,622.9 146.7,622.9 154.7,620.3 162.7,622.4 172,622 181.3,623.3 189.3,622 199.3,622.7 208.7,620.7 216.7,620.7 230,623.3 236.7,619.3 246,622.9 256.7,621.3 267.3,622.4 274,624 280.7,620.7 298.3,620 307.7,622.7 317,623.3 326.3,620.3 331.7,622.7 349,620.7 359.7,622.9 369,621.3 377,622.9 393.3,620.7 401.3,622.9 409.3,624 418.7,620.3 428,623.3 436,621.3 444,622.7 454.7,622.9 460,621.3 470.7,622.4 481.7,622.9 489.7,621.3 495,622.9 501.7,622.9 510.3,620.7 515,622.9 524.3,623.3 531,620.3 540.3,623.3 549.7,621.3 557.7,622.4 565.7,623.3 577.7,620 582.3,623.3 589,621.3 596.3,620 605,623.3 611.7,622.4 620.3,620.3 630.3,623.3 635.7,624 645,621.3 651.7,622 659.7,622.9 666.3,622.4 673,621.6"/>
</g>
<g clip-path="url(#c7)" fill="none" stroke-width="1" shape-rendering="crispEdges">
<polyline stroke="#ff0000" points="96,654 121.3,654.5 125.3,655.6 129.3,654.5 160,654.5 162.7,655.6 198.7,655.6 201.3,654.5 257.3,654 264,652.7 269.3,650 280,650 282.7,651.3 296,651.3 338,651.3 340.7,652.4 346,651.3 364.7,650 383.3,650.8 396.7,652.4 418,653.5 434,653.5 455.3,651.3 476.7,650 490,649.2 501.3,647.3 525.3,644.7 546.7,642.3 565.3,641.2 632,641.2 656,642.3 673.3,643.3"/>
<polyline stroke="#0000ff" points="96,706.8 101.3,700.7 110.7,711.3 118.7,704.7 121.3,705.2 125.9,710.5 130.7,696.1 134.7,703.3 140,701.5 144,703.3 149.3,696.1 154.7,702 160,706 168.3,713.3 169.9,712.5 171.2,711.5 173.9,710.2 176,711.5 177.6,712.5 180.8,712.5 181.3,713.3 184.5,713.3 185.3,712.5 189.6,712.5 190.4,713.3 192.5,713.3 194.1,710.7 200,700 202.7,694 208,694.5 216,699.3 222.7,705.2 228,703.3 232,698.8 237.3,698 241.3,696.7 250.7,700.7 256,702 264,687.3 273.3,683.3 282.7,686.8 290,687.3 306,691.3 312.7,689.2 316.7,690.8 323.3,687.3 340.7,691.3 348.7,687.3 360.7,686 370,680.1 380.7,684.7 386,684.7 396.7,689.2 410,690.8 420.7,694 423.3,698.8 442,688.1 455.3,686.5 466,685.5 476.7,681.2 490,675.9 493.3,674 512,669.5 533.3,666 554.7,664.1 573.3,663.3 586.7,663.3 608,665.2 629.3,667.3 650.7,669.5 673.3,671.3"/>
</g>
<g font-family="Liberation Sans, sans-serif" filter="url(#tc)">
<text x="384.75" y="13" font-size="12.5" text-anchor="middle" textLength="62" lengthAdjust="spacingAndGlyphs">GOES−15</text>
<text x="92.75" y="26" font-size="11" text-anchor="end" textLength="18.9" lengthAdjust="spacingAndGlyphs">800</text>
<text x="92.5" y="44" font-size="11" text-anchor="end" textLength="18.9" lengthAdjust="spacingAndGlyphs">600</text>
<text x="92.75" y="64" font-size="11" text-anchor="end" textLength="18.9" lengthAdjust="spacingAndGlyphs">400</text>
<text x="92.5" y="85" font-size="11" text-anchor="end" textLength="18.9" lengthAdjust="spacingAndGlyphs">200</text>
<text x="92.5" y="102" font-size="11" text-anchor="end" textLength="6.3" lengthAdjust="spacingAndGlyphs">0</text>
<text x="92.75" y="113" font-size="11" text-anchor="end" textLength="18.9" lengthAdjust="spacingAndGlyphs">100</text>
<text x="92.5" y="131" font-size="11" text-anchor="end" textLength="12.6" lengthAdjust="spacingAndGlyphs">50</text>
<text x="92.5" y="152" font-size="11" text-anchor="end" textLength="6.3" lengthAdjust="spacingAndGlyphs">0</text>
<text x="92.75" y="172" font-size="11" text-anchor="end" textLength="22" lengthAdjust="spacingAndGlyphs">−50</text>
<text x="92.5" y="189" font-size="11" text-anchor="end" textLength="28.3" lengthAdjust="spacingAndGlyphs">−100</text>
<text x="92.5" y="201" font-size="11" text-anchor="end" textLength="12.6" lengthAdjust="spacingAndGlyphs">20</text>
<text x="92.5" y="218" font-size="11" text-anchor="end" textLength="6.3" lengthAdjust="spacingAndGlyphs">0</text>
<text x="92.75" y="239" font-size="11" text-anchor="end" textLength="22" lengthAdjust="spacingAndGlyphs">−20</text>
<text x="92.75" y="260" font-size="11" text-anchor="end" textLength="22" lengthAdjust="spacingAndGlyphs">−40</text>
<text x="92.75" y="276" font-size="11" text-anchor="end" textLength="22" lengthAdjust="spacingAndGlyphs">−60</text>
<text x="88.05" y="364" font-size="11" text-anchor="end" textLength="11.6" lengthAdjust="spacingAndGlyphs">10</text>
<text x="88.05" y="354" font-size="11" text-anchor="end" textLength="11.6" lengthAdjust="spacingAndGlyphs">10</text>
<text x="88.05" y="340" font-size="11" text-anchor="end" textLength="11.6" lengthAdjust="spacingAndGlyphs">10</text>
<text x="88.05" y="327" font-size="11" text-anchor="end" textLength="11.6" lengthAdjust="spacingAndGlyphs">10</text>
<text x="88.05" y="313" font-size="11" text-anchor="end" textLength="11.6" lengthAdjust="spacingAndGlyphs">10</text>
<text x="88.05" y="299" font-size="11" text-anchor="end" textLength="11.6" lengthAdjust="spacingAndGlyphs">10</text>
<text x="88.05" y="288" font-size="11" text-anchor="end" textLength="11.6" lengthAdjust="spacingAndGlyphs">10</text>
<text x="88.05" y="451" font-size="11" text-anchor="end" textLength="11.6" lengthAdjust="spacingAndGlyphs">10</text>
<text x="88.05" y="439" font-size="11" text-anchor="end" textLength="11.6" lengthAdjust="spacingAndGlyphs">10</text>
<text x="88.05" y="422" font-size="11" text-anchor="end" textLength="11.6" lengthAdjust="spacingAndGlyphs">10</text>
<text x="88.05" y="406" font-size="11" text-anchor="end" textLength="11.6" lengthAdjust="spacingAndGlyphs">10</text>
<text x="88.05" y="389" font-size="11" text-anchor="end" textLength="11.6" lengthAdjust="spacingAndGlyphs">10</text>
<text x="88.05" y="376" font-size="11" text-anchor="end" textLength="11.6" lengthAdjust="spacingAndGlyphs">10</text>
<text x="88.05" y="539" font-size="11" text-anchor="end" textLength="11.6" lengthAdjust="spacingAndGlyphs">10</text>
<text x="88.05" y="515" font-size="11" text-anchor="end" textLength="11.6" lengthAdjust="spacingAndGlyphs">10</text>
<text x="88.05" y="488" font-size="11" text-anchor="end" textLength="11.6" lengthAdjust="spacingAndGlyphs">10</text>
<text x="88.05" y="463" font-size="11" text-anchor="end" textLength="11.6" lengthAdjust="spacingAndGlyphs">10</text>
<text x="83.7" y="714" font-size="11" text-anchor="end" textLength="12.9" lengthAdjust="spacingAndGlyphs">10</text>
<text x="83.7" y="697" font-size="11" text-anchor="end" textLength="12.9" lengthAdjust="spacingAndGlyphs">10</text>
<text x="83.7" y="676" font-size="11" text-anchor="end" textLength="12.9" lengthAdjust="spacingAndGlyphs">10</text>
<text x="83.7" y="655" font-size="11" text-anchor="end" textLength="12.9" lengthAdjust="spacingAndGlyphs">10</text>
<text x="83.7" y="638" font-size="11" text-anchor="end" textLength="12.9" lengthAdjust="spacingAndGlyphs">10</text>
<text x="92.5" y="626" font-size="11" text-anchor="end" textLength="30.6" lengthAdjust="spacingAndGlyphs">0.001</text>
<text x="92.5" y="614" font-size="11" text-anchor="end" textLength="30.6" lengthAdjust="spacingAndGlyphs">0.010</text>
<text x="92.5" y="597" font-size="11" text-anchor="end" textLength="30.6" lengthAdjust="spacingAndGlyphs">0.100</text>
<text x="92.5" y="580" font-size="11" text-anchor="end" textLength="30.6" lengthAdjust="spacingAndGlyphs">1.000</text>
<text x="92.75" y="564" font-size="11" text-anchor="end" textLength="36.9" lengthAdjust="spacingAndGlyphs">10.000</text>
<text x="93" y="550" font-size="11" text-anchor="end" textLength="43.2" lengthAdjust="spacingAndGlyphs">100.000</text>
<text x="684" y="40" font-size="11" fill="#0000ff" textLength="47" lengthAdjust="spacingAndGlyphs">Kyoto AE</text>
<text x="684" y="81" font-size="11" fill="#000000" textLength="54.5" lengthAdjust="spacingAndGlyphs">Themis AE</text>
<text x="684.25" y="117" font-size="11" fill="#0000ff" textLength="11.5" lengthAdjust="spacingAndGlyphs">Bx</text>
<text x="684" y="138" font-size="11" fill="#00ff00" textLength="11.5" lengthAdjust="spacingAndGlyphs">By</text>
<text x="684.25" y="158.5" font-size="11" fill="#ff0000" textLength="11.5" lengthAdjust="spacingAndGlyphs">Bz</text>
<text x="684" y="179" font-size="11" fill="#000000" textLength="30" lengthAdjust="spacingAndGlyphs">Bmag</text>
<text x="684.25" y="208" font-size="11" fill="#0000ff" textLength="11.5" lengthAdjust="spacingAndGlyphs">Bx</text>
<text x="684" y="235" font-size="11" fill="#00ff00" textLength="11.5" lengthAdjust="spacingAndGlyphs">By</text>
<text x="684.25" y="262.5" font-size="11" fill="#ff0000" textLength="11.5" lengthAdjust="spacingAndGlyphs">Bz</text>
<text x="684.75" y="290" font-size="11" fill="#a00000" textLength="38.5" lengthAdjust="spacingAndGlyphs">575keV</text>
<text x="684" y="306" font-size="11" fill="#ffa500" textLength="38.5" lengthAdjust="spacingAndGlyphs">300keV</text>
<text x="684.75" y="322.5" font-size="11" fill="#00ff00" textLength="38.5" lengthAdjust="spacingAndGlyphs">210keV</text>
<text x="684.75" y="339" font-size="11" fill="#0000ff" textLength="38.5" lengthAdjust="spacingAndGlyphs">140keV</text>
<text x="684.75" y="355.5" font-size="11" fill="#000000" textLength="32.5" lengthAdjust="spacingAndGlyphs">95keV</text>
<text x="684.25" y="383" font-size="11" fill="#a00000" textLength="33.5" lengthAdjust="spacingAndGlyphs">4  MeV</text>
<text x="684.25" y="410" font-size="11" fill="#00ff00" textLength="33.5" lengthAdjust="spacingAndGlyphs">2  MeV</text>
<text x="684.25" y="438" font-size="11" fill="#000000" textLength="43.5" lengthAdjust="spacingAndGlyphs">0.6  MeV</text>
<text x="684.75" y="464" font-size="11" fill="#a00000" textLength="38.5" lengthAdjust="spacingAndGlyphs">475keV</text>
<text x="684.75" y="481" font-size="11" fill="#ffa500" textLength="38.5" lengthAdjust="spacingAndGlyphs">275keV</text>
<text x="684.75" y="497.5" font-size="11" fill="#00ff00" textLength="38.5" lengthAdjust="spacingAndGlyphs">150keV</text>
<text x="684.75" y="514" font-size="11" fill="#0000ff" textLength="32.5" lengthAdjust="spacingAndGlyphs">75keV</text>
<text x="684" y="530.5" font-size="11" fill="#000000" textLength="32.5" lengthAdjust="spacingAndGlyphs">40keV</text>
<text x="684.5" y="549.6" font-size="11" fill="#a00000" textLength="46.5" lengthAdjust="spacingAndGlyphs">433 MeV</text>
<text x="684.75" y="561" font-size="11" fill="#ff5a00" textLength="46.5" lengthAdjust="spacingAndGlyphs">165 MeV</text>
<text x="684.25" y="573" font-size="11" fill="#f0f000" textLength="48.5" lengthAdjust="spacingAndGlyphs">63.1 MeV</text>
<text x="684" y="585" font-size="11" fill="#00ff00" textLength="48.5" lengthAdjust="spacingAndGlyphs">30.6 MeV</text>
<text x="684.75" y="597" font-size="11" fill="#00a0ff" textLength="48.5" lengthAdjust="spacingAndGlyphs">11.6 MeV</text>
<text x="684.25" y="609" font-size="11" fill="#4000d0" textLength="43" lengthAdjust="spacingAndGlyphs">6.5 MeV</text>
<text x="684.5" y="620.5" font-size="11" fill="#000000" textLength="43" lengthAdjust="spacingAndGlyphs">2.5 MeV</text>
<text x="684" y="652" font-size="11" fill="#ff0000" textLength="65" lengthAdjust="spacingAndGlyphs">0.1−0.8 nm</text>
<text x="684.75" y="693" font-size="11" fill="#0000ff" textLength="72" lengthAdjust="spacingAndGlyphs">0.05−0.4 nm</text>
<text x="6.25" y="728" font-size="11" textLength="36.5" lengthAdjust="spacingAndGlyphs">X−GSM</text>
<text x="6" y="738" font-size="11" textLength="36" lengthAdjust="spacingAndGlyphs">Y−GSM</text>
<text x="6.25" y="747" font-size="11" textLength="36.5" lengthAdjust="spacingAndGlyphs">Z−GSM</text>
<text x="6.25" y="757" font-size="11" textLength="19" lengthAdjust="spacingAndGlyphs">MLT</text>
<text x="6.5" y="766" font-size="11" textLength="32" lengthAdjust="spacingAndGlyphs">hhmm</text>
<text x="6.5" y="776" font-size="11" textLength="66" lengthAdjust="spacingAndGlyphs">2013 Jul 15</text>
<text x="96.25" y="728" font-size="11" text-anchor="middle" textLength="16.6" lengthAdjust="spacingAndGlyphs">1.8</text>
<text x="96" y="738" font-size="11" text-anchor="middle" textLength="16.6" lengthAdjust="spacingAndGlyphs">6.4</text>
<text x="96.25" y="747" font-size="11" text-anchor="middle" textLength="16.6" lengthAdjust="spacingAndGlyphs">0.1</text>
<text x="96.25" y="757" font-size="11" text-anchor="middle" textLength="22.9" lengthAdjust="spacingAndGlyphs">17.0</text>
<text x="96.25" y="766" font-size="11" text-anchor="middle" textLength="26.7" lengthAdjust="spacingAndGlyphs">0200</text>
<text x="240.25" y="728" font-size="11" text-anchor="middle" textLength="16.6" lengthAdjust="spacingAndGlyphs">1.0</text>
<text x="240.25" y="738" font-size="11" text-anchor="middle" textLength="16.6" lengthAdjust="spacingAndGlyphs">6.5</text>
<text x="240.25" y="747" font-size="11" text-anchor="middle" textLength="16.6" lengthAdjust="spacingAndGlyphs">0.3</text>
<text x="240.25" y="757" font-size="11" text-anchor="middle" textLength="22.9" lengthAdjust="spacingAndGlyphs">17.5</text>
<text x="240.25" y="766" font-size="11" text-anchor="middle" textLength="26.7" lengthAdjust="spacingAndGlyphs">0230</text>
<text x="385.5" y="728" font-size="11" text-anchor="middle" textLength="16.6" lengthAdjust="spacingAndGlyphs">0.2</text>
<text x="385.25" y="738" font-size="11" text-anchor="middle" textLength="16.6" lengthAdjust="spacingAndGlyphs">6.6</text>
<text x="385.25" y="747" font-size="11" text-anchor="middle" textLength="16.6" lengthAdjust="spacingAndGlyphs">0.5</text>
<text x="385.25" y="757" font-size="11" text-anchor="middle" textLength="22.9" lengthAdjust="spacingAndGlyphs">17.9</text>
<text x="385.25" y="766" font-size="11" text-anchor="middle" textLength="26.7" lengthAdjust="spacingAndGlyphs">0300</text>
<text x="529.5" y="728" font-size="11" text-anchor="middle" textLength="26" lengthAdjust="spacingAndGlyphs">−0.6</text>
<text x="529.25" y="738" font-size="11" text-anchor="middle" textLength="16.6" lengthAdjust="spacingAndGlyphs">6.6</text>
<text x="529.5" y="747" font-size="11" text-anchor="middle" textLength="16.6" lengthAdjust="spacingAndGlyphs">0.7</text>
<text x="529" y="757" font-size="11" text-anchor="middle" textLength="22.9" lengthAdjust="spacingAndGlyphs">18.4</text>
<text x="529.25" y="766" font-size="11" text-anchor="middle" textLength="26.7" lengthAdjust="spacingAndGlyphs">0330</text>
<text x="673.75" y="728" font-size="11" text-anchor="middle" textLength="26" lengthAdjust="spacingAndGlyphs">−1.4</text>
<text x="673" y="738" font-size="11" text-anchor="middle" textLength="16.6" lengthAdjust="spacingAndGlyphs">6.4</text>
<text x="673.25" y="747" font-size="11" text-anchor="middle" textLength="16.6" lengthAdjust="spacingAndGlyphs">0.8</text>
<text x="673.25" y="757" font-size="11" text-anchor="middle" textLength="22.9" lengthAdjust="spacingAndGlyphs">18.9</text>
<text x="673.25" y="766" font-size="11" text-anchor="middle" textLength="26.7" lengthAdjust="spacingAndGlyphs">0400</text>
</g>
<g font-family="Liberation Sans, sans-serif" filter="url(#tc2)">
<text x="93.5" y="359" font-size="7.5" text-anchor="end" textLength="4.5" lengthAdjust="spacingAndGlyphs">1</text>
<text x="93.5" y="349" font-size="7.5" text-anchor="end" textLength="4.5" lengthAdjust="spacingAndGlyphs">2</text>
<text x="93.5" y="335" font-size="7.5" text-anchor="end" textLength="4.5" lengthAdjust="spacingAndGlyphs">3</text>
<text x="93" y="322" font-size="7.5" text-anchor="end" textLength="4.5" lengthAdjust="spacingAndGlyphs">4</text>
<text x="93" y="308" font-size="7.5" text-anchor="end" textLength="4.5" lengthAdjust="spacingAndGlyphs">5</text>
<text x="93" y="294" font-size="7.5" text-anchor="end" textLength="4.5" lengthAdjust="spacingAndGlyphs">6</text>
<text x="93" y="283" font-size="7.5" text-anchor="end" textLength="4.5" lengthAdjust="spacingAndGlyphs">7</text>
<text x="93.25" y="446" font-size="7.5" text-anchor="end" textLength="4.5" lengthAdjust="spacingAndGlyphs">0</text>
<text x="93.5" y="434" font-size="7.5" text-anchor="end" textLength="4.5" lengthAdjust="spacingAndGlyphs">1</text>
<text x="93.5" y="417" font-size="7.5" text-anchor="end" textLength="4.5" lengthAdjust="spacingAndGlyphs">2</text>
<text x="93.5" y="401" font-size="7.5" text-anchor="end" textLength="4.5" lengthAdjust="spacingAndGlyphs">3</text>
<text x="93" y="384" font-size="7.5" text-anchor="end" textLength="4.5" lengthAdjust="spacingAndGlyphs">4</text>
<text x="93" y="371" font-size="7.5" text-anchor="end" textLength="4.5" lengthAdjust="spacingAndGlyphs">5</text>
<text x="93.5" y="534" font-size="7.5" text-anchor="end" textLength="4.5" lengthAdjust="spacingAndGlyphs">3</text>
<text x="93" y="510" font-size="7.5" text-anchor="end" textLength="4.5" lengthAdjust="spacingAndGlyphs">4</text>
<text x="93" y="483" font-size="7.5" text-anchor="end" textLength="4.5" lengthAdjust="spacingAndGlyphs">5</text>
<text x="93" y="458" font-size="7.5" text-anchor="end" textLength="4.5" lengthAdjust="spacingAndGlyphs">6</text>
<text x="93.5" y="709" font-size="7.5" text-anchor="end" textLength="10.5" lengthAdjust="spacingAndGlyphs">−9</text>
<text x="93.5" y="692" font-size="7.5" text-anchor="end" textLength="10.5" lengthAdjust="spacingAndGlyphs">−8</text>
<text x="93.5" y="671" font-size="7.5" text-anchor="end" textLength="10.5" lengthAdjust="spacingAndGlyphs">−7</text>
<text x="93.75" y="650" font-size="7.5" text-anchor="end" textLength="10.5" lengthAdjust="spacingAndGlyphs">−6</text>
<text x="93.5" y="633" font-size="7.5" text-anchor="end" textLength="10.5" lengthAdjust="spacingAndGlyphs">−5</text>
</g>
<g font-family="Liberation Sans, sans-serif" filter="url(#tc3)">
<text x="54.3" y="61.1" font-size="11" text-anchor="middle" textLength="47.5" lengthAdjust="spacingAndGlyphs" transform="rotate(-90 54.3 61.1)">AE index</text>
<text x="64.6" y="60.3" font-size="11" text-anchor="middle" textLength="19" lengthAdjust="spacingAndGlyphs" transform="rotate(-90 64.6 60.3)">[nT]</text>
<text x="46" y="147.55" font-size="11" text-anchor="middle" textLength="37.4" lengthAdjust="spacingAndGlyphs" transform="rotate(-90 46 147.55)">B (SM)</text>
<text x="55" y="147.5" font-size="11" text-anchor="middle" textLength="18.7" lengthAdjust="spacingAndGlyphs" transform="rotate(-90 55 147.5)">[nT]</text>
<text x="52" y="234.7" font-size="11" text-anchor="middle" textLength="97.9" lengthAdjust="spacingAndGlyphs" transform="rotate(-90 52 234.7)">B (SM)−IGRF (SM)</text>
<text x="62.8" y="235.55" font-size="11" text-anchor="middle" textLength="21" lengthAdjust="spacingAndGlyphs" transform="rotate(-90 62.8 235.55)">[nT]</text>
<text x="57" y="323.25" font-size="11" text-anchor="middle" textLength="40.7" lengthAdjust="spacingAndGlyphs" transform="rotate(-90 57 323.25)">Protons</text>
<text x="66.5" y="319.75" font-size="11" text-anchor="middle" textLength="111" lengthAdjust="spacingAndGlyphs" transform="rotate(-90 66.5 319.75)">[p/(cm<tspan font-size="7.5" dy="-6">2</tspan><tspan dy="6">−s−sr−keV)]</tspan></text>
<text x="57" y="409.3" font-size="11" text-anchor="middle" textLength="48.4" lengthAdjust="spacingAndGlyphs" transform="rotate(-90 57 409.3)">Electrons</text>
<text x="66.5" y="407" font-size="11" text-anchor="middle" textLength="84" lengthAdjust="spacingAndGlyphs" transform="rotate(-90 66.5 407)">[e/(cm<tspan font-size="7.5" dy="-6">2</tspan><tspan dy="6">−s−sr)]</tspan></text>
<text x="57" y="498.4" font-size="11" text-anchor="middle" textLength="49.3" lengthAdjust="spacingAndGlyphs" transform="rotate(-90 57 498.4)">Electrons</text>
<text x="66.5" y="493" font-size="11" text-anchor="middle" textLength="110" lengthAdjust="spacingAndGlyphs" transform="rotate(-90 66.5 493)">[e/(cm<tspan font-size="7.5" dy="-6">2</tspan><tspan dy="6">−s−sr−keV)]</tspan></text>
<text x="31.4" y="584.05" font-size="11" text-anchor="middle" textLength="41.8" lengthAdjust="spacingAndGlyphs" transform="rotate(-90 31.4 584.05)">Protons</text>
<text x="40.5" y="580.05" font-size="11" text-anchor="middle" textLength="108" lengthAdjust="spacingAndGlyphs" transform="rotate(-90 40.5 580.05)">[p/(cm<tspan font-size="7.5" dy="-6">2</tspan><tspan dy="6">−s−sr−keV)]</tspan></text>
<text x="51.5" y="672.65" font-size="11" text-anchor="middle" textLength="50.4" lengthAdjust="spacingAndGlyphs" transform="rotate(-90 51.5 672.65)">Xray Flux</text>
<text x="61" y="669.55" font-size="11" text-anchor="middle" textLength="36.6" lengthAdjust="spacingAndGlyphs" transform="rotate(-90 61 669.55)">[W/m<tspan font-size="7.5" dy="-6">2</tspan><tspan dy="6">]</tspan></text>
</g>
</svg></body></html>
